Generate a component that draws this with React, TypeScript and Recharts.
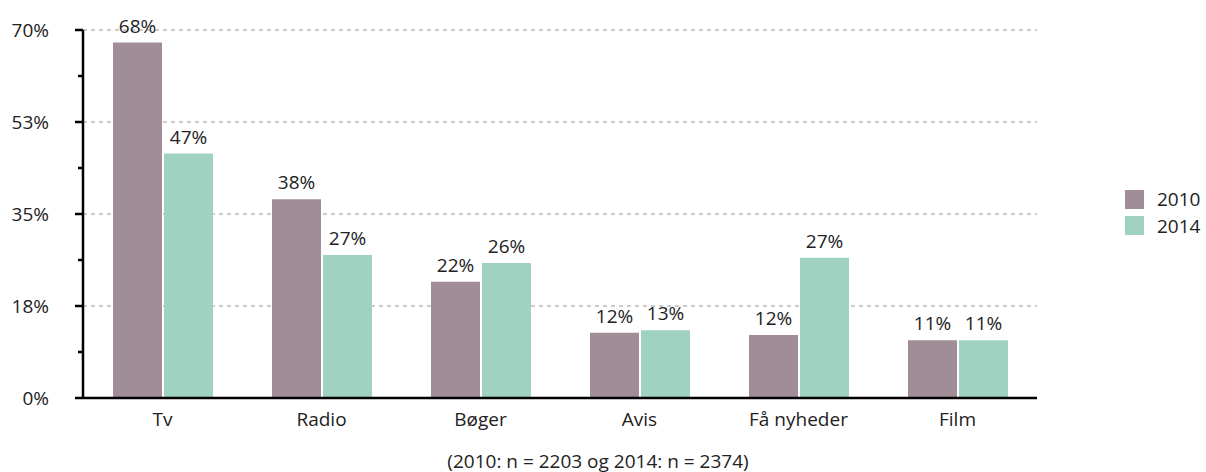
import React from 'react'
import { BarChart, Bar, XAxis, YAxis, CartesianGrid, LabelList } from 'recharts'

const categories = ['Tv', 'Radio', 'Bøger', 'Avis', 'Få nyheder', 'Film']
const values2010 = [67.6, 37.8, 22.1, 12.4, 12.0, 11.0]
const values2014 = [46.5, 27.2, 25.7, 12.9, 26.7, 11.0]
const majorTicks = [0, 17.5, 35, 52.5, 70]
const allTicks = [0, 8.75, 17.5, 26.25, 35, 43.75, 52.5, 61.25, 70]

const SERIES = [
  { key: 'y2010', label: '2010', color: '#a08d97' },
  { key: 'y2014', label: '2014', color: '#9fd2c0' },
]

const FONT = '"Open Sans", sans-serif'
const TEXT = '#222'

const data = categories.map((name, i) => ({
  name,
  y2010: values2010[i],
  y2014: values2014[i],
}))

function YTick({ x, y, payload }: { x: number; y: number; payload: { value: number } }) {
  const major = majorTicks.includes(payload.value)
  return (
    <g>
      <line x1={x - (major ? 8 : 5)} x2={x} y1={y} y2={y} stroke="#000" strokeWidth={2.5} />
      {major && (
        <text x={x - 34} y={y} dy="0.35em" textAnchor="end" fontSize={19} fill={TEXT} fontFamily={FONT}>
          {Math.round(payload.value)}%
        </text>
      )}
    </g>
  )
}

export default function App() {
  return (
    <div style={{ position: 'absolute', left: 0, top: 0, width: 1206, height: 472, background: '#fff', fontFamily: FONT }}>
      <BarChart
        width={1206}
        height={472}
        data={data}
        margin={{ top: 30, right: 169, bottom: 30, left: 0 }}
        barSize={49}
        barGap={2}
      >
        <CartesianGrid
          vertical={false}
          horizontalValues={majorTicks}
          stroke="#bbb"
          strokeDasharray="4 4"
          strokeWidth={1.5}
        />
        <XAxis
          dataKey="name"
          height={44}
          tickSize={0}
          tickMargin={15}
          axisLine={{ stroke: '#000', strokeWidth: 2.5 }}
          tick={{ fontSize: 19, fill: TEXT, fontFamily: FONT }}
        />
        <YAxis
          width={83}
          domain={[0, 70]}
          ticks={allTicks}
          interval={0}
          tickSize={0}
          tickMargin={0}
          tickLine={false}
          axisLine={{ stroke: '#000', strokeWidth: 2.5 }}
          tick={(props: any) => <YTick {...props} />}
        />
        {SERIES.map((s) => (
          <Bar key={s.key} dataKey={s.key} fill={s.color} isAnimationActive={false}>
            <LabelList
              dataKey={s.key}
              position="top"
              offset={10}
              formatter={(v: number) => `${Math.round(v)}%`}
              style={{ fontSize: 19, fill: TEXT, fontFamily: FONT }}
            />
          </Bar>
        ))}
      </BarChart>
      <div style={{ position: 'absolute', left: 1125, top: 186 }}>
        {SERIES.map((s) => (
          <div key={s.key} style={{ display: 'flex', alignItems: 'center', height: 26.5 }}>
            <span style={{ width: 19, height: 19, background: s.color, display: 'inline-block', marginRight: 13 }} />
            <span style={{ fontSize: 19, color: TEXT }}>{s.label}</span>
          </div>
        ))}
      </div>
      <div
        style={{
          position: 'absolute',
          left: 0,
          width: 1196,
          top: 451,
          lineHeight: '20px',
          textAlign: 'center',
          fontSize: 19,
          color: TEXT,
        }}
      >
        (2010: n = 2203 og 2014: n = 2374)
      </div>
    </div>
  )
}
